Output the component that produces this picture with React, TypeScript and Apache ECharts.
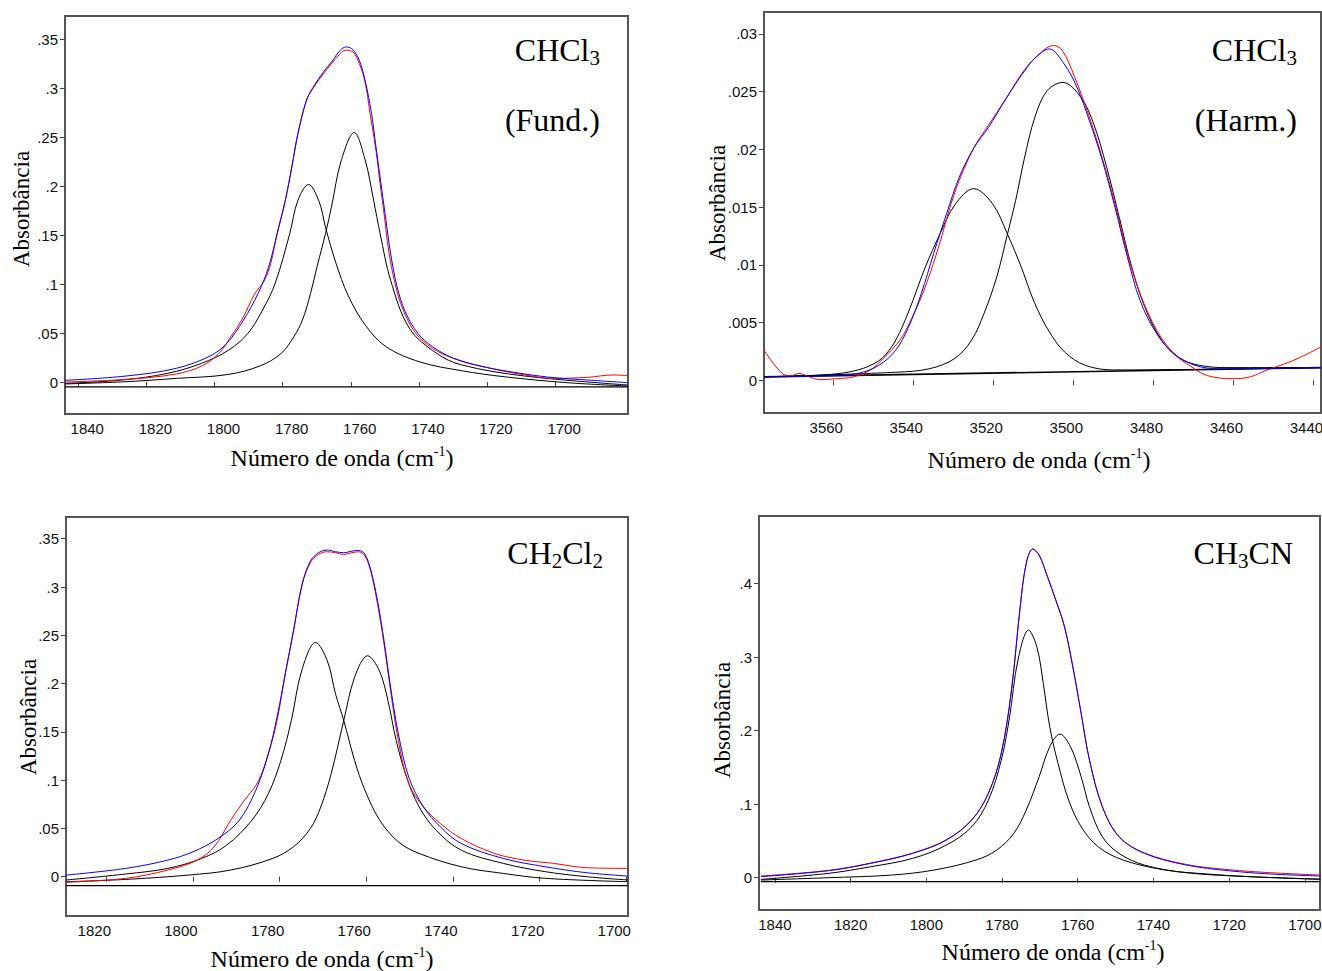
import React, { useEffect, useRef } from "react";
import * as echarts from "echarts";

// ---------- Panel 1: CHCl3 (Fund.) ----------
const p1XTicks = [1840, 1820, 1800, 1780, 1760, 1740, 1720, 1700];
const p1YTicks = [0, 0.05, 0.1, 0.15, 0.2, 0.25, 0.3, 0.35];
const p1Red = [
  [1843.9, 0.0], [1826.0, 0.0027], [1811.2, 0.0082], [1803.8, 0.0163], [1798.9, 0.0286],
  [1795.2, 0.0463], [1791.5, 0.0667], [1788.4, 0.0889], [1785.3, 0.1042], [1783.5, 0.1212],
  [1781.6, 0.1519], [1779.2, 0.1859], [1777.3, 0.22], [1775.5, 0.254], [1773.0, 0.288],
  [1771.1, 0.3], [1768.0, 0.3153], [1765.6, 0.3255], [1763.1, 0.3357], [1761.6, 0.3391],
  [1759.4, 0.3374], [1757.5, 0.3255], [1755.7, 0.3051], [1754.5, 0.2778], [1752.6, 0.237],
  [1751.4, 0.2029], [1750.1, 0.1689], [1748.9, 0.1348], [1747.0, 0.1008], [1744.6, 0.0735],
  [1740.9, 0.0497], [1736.0, 0.0344], [1729.8, 0.0242], [1721.2, 0.0157], [1708.9, 0.0072],
  [1700.2, 0.0037], [1690.4, 0.0048], [1683.0, 0.0072], [1678.6, 0.0065],
];
const p1Blue = [
  [1843.9, 0.0017], [1826.0, 0.0061], [1811.2, 0.014], [1801.3, 0.0266], [1796.4, 0.0395],
  [1791.5, 0.0633], [1787.2, 0.0906], [1784.1, 0.1178], [1781.6, 0.1519], [1779.2, 0.1859],
  [1777.3, 0.22], [1775.5, 0.254], [1773.0, 0.288], [1771.1, 0.301], [1768.0, 0.317],
  [1765.6, 0.3272], [1763.1, 0.3391], [1761.3, 0.3425], [1759.4, 0.3398], [1757.5, 0.3289],
  [1755.7, 0.3068], [1753.9, 0.2744], [1752.6, 0.2404], [1751.4, 0.2097], [1749.8, 0.1689],
  [1748.3, 0.1314], [1746.4, 0.0974], [1744.0, 0.0718], [1740.3, 0.0497], [1736.0, 0.0361],
  [1729.8, 0.0242], [1721.2, 0.0157], [1708.9, 0.0082], [1700.2, 0.0044], [1690.4, 0.002],
  [1678.6, -0.0007],
];
const p1CompA = [
  [1843.9, -0.0014], [1827.2, 0.002], [1813.7, 0.0089], [1803.8, 0.0191], [1795.8, 0.0327],
  [1790.2, 0.0497], [1785.9, 0.0735], [1782.2, 0.1008], [1777.9, 0.1519], [1775.5, 0.1859],
  [1772.4, 0.2019], [1769.3, 0.1845], [1767.4, 0.158], [1764.4, 0.122], [1760.7, 0.088],
  [1755.7, 0.058], [1749.6, 0.036], [1739.7, 0.0205], [1727.4, 0.0115], [1715.0, 0.0054],
  [1696.5, -0.0007], [1678.6, -0.0041],
];
const p1CompB = [
  [1843.9, -0.002], [1826.0, 0.0003], [1811.2, 0.0037], [1796.4, 0.0075], [1786.6, 0.0165],
  [1780.4, 0.0293], [1776.7, 0.0463], [1774.2, 0.0633], [1771.8, 0.0906], [1769.9, 0.1178],
  [1767.4, 0.1519], [1765.6, 0.18], [1762.9, 0.225], [1759.0, 0.255], [1755.7, 0.226],
  [1753.3, 0.186], [1751.4, 0.152], [1748.3, 0.104], [1742.8, 0.055], [1734.8, 0.0293],
  [1727.4, 0.0174], [1708.9, 0.0061], [1678.6, -0.0031],
];
const p1Base = [[1843.9, -0.005], [1678.6, -0.005]];

// ---------- Panel 2: CHCl3 (Harm.) ----------
const p2XTicks = [3560, 3540, 3520, 3500, 3480, 3460, 3440];
const p2YTicks = [0, 0.005, 0.01, 0.015, 0.02, 0.025, 0.03];
const p2Red = [
  [3577.3, 0.0026], [3572.8, 0.0006], [3570.5, 0.0004], [3568.6, 0.0006], [3566.0, 0.0003],
  [3563.3, 0.00006], [3559.1, 0.00014], [3554.9, 0.0003], [3550.7, 0.0009], [3547.5, 0.0019],
  [3543.3, 0.0035], [3540.2, 0.0055], [3537.0, 0.0081], [3533.8, 0.0114], [3529.6, 0.0163],
  [3524.9, 0.0201], [3521.2, 0.0221], [3517.0, 0.0243], [3512.8, 0.0266], [3509.6, 0.0279],
  [3504.9, 0.029], [3502.8, 0.0286], [3499.7, 0.0263], [3496.0, 0.0228], [3492.8, 0.0193],
  [3489.6, 0.0153], [3486.5, 0.011], [3483.3, 0.0075], [3479.1, 0.0043], [3474.8, 0.0023],
  [3470.6, 0.0012], [3466.4, 0.0004], [3460.0, 0.00014], [3455.8, 0.0003], [3451.6, 0.0009],
  [3447.4, 0.0014], [3443.2, 0.002], [3438.1, 0.0029],
];
const p2Blue = [
  [3577.3, 0.0003], [3561.2, 0.0004], [3553.8, 0.0006], [3548.6, 0.0013], [3544.4, 0.0026],
  [3541.2, 0.0046], [3538.0, 0.0075], [3534.9, 0.011], [3531.7, 0.0144], [3528.5, 0.0176],
  [3524.9, 0.0201], [3521.2, 0.0219], [3517.0, 0.0243], [3512.8, 0.0265], [3509.6, 0.0279],
  [3506.0, 0.0287], [3502.3, 0.0274], [3499.1, 0.0254], [3496.0, 0.0225], [3492.8, 0.0191],
  [3489.6, 0.015], [3486.5, 0.0107], [3483.3, 0.0069], [3479.1, 0.004], [3474.8, 0.0023],
  [3469.6, 0.0013], [3463.3, 0.001], [3438.1, 0.0011],
];
const p2Comp1 = [
  [3577.3, 0.0003], [3561.2, 0.0005], [3553.8, 0.0009], [3548.6, 0.0017], [3545.4, 0.0029],
  [3542.8, 0.0046], [3540.1, 0.0069], [3537.0, 0.0098], [3533.3, 0.0127], [3529.6, 0.0152],
  [3524.9, 0.0166], [3520.2, 0.0153], [3516.5, 0.0127], [3513.0, 0.0098], [3509.8, 0.0068],
  [3506.0, 0.0042], [3502.0, 0.0024], [3497.0, 0.0013], [3490.0, 0.0009], [3438.1, 0.0011],
];
const p2Comp2 = [
  [3577.3, 0.0003], [3544.4, 0.0007], [3536.0, 0.001], [3529.6, 0.0019], [3525.4, 0.0035],
  [3522.3, 0.0058], [3519.1, 0.009], [3516.5, 0.0126], [3514.4, 0.0156], [3512.3, 0.0191],
  [3509.6, 0.0228], [3506.5, 0.0251], [3502.6, 0.0258], [3498.1, 0.0245], [3494.9, 0.0222],
  [3491.7, 0.0185], [3488.5, 0.0141], [3485.4, 0.0098], [3482.2, 0.0064], [3478.0, 0.0035],
  [3473.8, 0.002], [3468.5, 0.0013], [3461.1, 0.0011], [3438.1, 0.0011],
];
const p2Base = [[3577.3, 0.0003], [3438.1, 0.0011]];

// ---------- Panel 3: CH2Cl2 ----------
const p3XTicks = [1820, 1800, 1780, 1760, 1740, 1720, 1700];
const p3YTicks = [0, 0.05, 0.1, 0.15, 0.2, 0.25, 0.3, 0.35];
const p3Red = [
  [1829.2, -0.0058], [1815.5, -0.0017], [1805.8, 0.0069], [1799.0, 0.0172], [1795.1, 0.031],
  [1791.3, 0.0585], [1788.4, 0.0774], [1785.0, 0.0981], [1782.6, 0.1273], [1780.6, 0.1617],
  [1778.7, 0.2099], [1776.8, 0.2546], [1774.8, 0.3028], [1772.9, 0.3252], [1771.0, 0.3338],
  [1769.0, 0.3365], [1767.1, 0.3355], [1765.2, 0.3338], [1763.3, 0.3355], [1761.8, 0.3365],
  [1760.3, 0.3321], [1758.9, 0.3149], [1757.4, 0.2822], [1755.9, 0.2409], [1754.5, 0.1961],
  [1752.6, 0.1411], [1750.2, 0.0964], [1746.8, 0.0723], [1742.9, 0.0551], [1738.1, 0.0396],
  [1730.4, 0.0241], [1723.6, 0.0172], [1716.8, 0.0138], [1709.1, 0.0093], [1699.7, 0.0086],
];
const p3Blue = [
  [1829.2, 0.0017], [1815.5, 0.0086], [1805.8, 0.0172], [1800.0, 0.0258], [1794.2, 0.0396],
  [1789.3, 0.0585], [1785.5, 0.0895], [1782.6, 0.1273], [1780.6, 0.1652], [1778.7, 0.2099],
  [1776.8, 0.2546], [1774.8, 0.3028], [1772.9, 0.3269], [1771.0, 0.3355], [1769.0, 0.3383],
  [1767.1, 0.3365], [1765.2, 0.3355], [1763.3, 0.3372], [1761.8, 0.3379], [1760.3, 0.3338],
  [1758.9, 0.3166], [1757.4, 0.2856], [1755.9, 0.2443], [1754.5, 0.1996], [1752.6, 0.148],
  [1750.2, 0.1032], [1746.8, 0.0723], [1742.9, 0.0516], [1738.1, 0.0344], [1728.4, 0.0189],
  [1718.7, 0.0103], [1709.1, 0.0041], [1699.7, 0.0007],
];
const p3CompA = [
  [1829.2, -0.0034], [1815.5, 0.0028], [1805.8, 0.0086], [1798.0, 0.0189], [1792.2, 0.0327],
  [1786.4, 0.0585], [1782.6, 0.086], [1779.7, 0.1204], [1777.3, 0.1617], [1774.9, 0.2134],
  [1771.7, 0.2426], [1769.0, 0.2237], [1767.1, 0.1893], [1765.2, 0.1617], [1762.7, 0.1204],
  [1760.3, 0.0895], [1756.9, 0.0585], [1752.6, 0.0361], [1747.8, 0.0241], [1738.1, 0.0103],
  [1728.4, 0.0034], [1718.7, -0.0017], [1699.7, -0.0052],
];
const p3CompB = [
  [1829.2, -0.0052], [1815.5, -0.0028], [1801.0, 0.0017], [1791.3, 0.0069], [1781.6, 0.0189],
  [1776.8, 0.031], [1772.9, 0.0499], [1770.5, 0.0723], [1768.1, 0.1067], [1765.2, 0.1617],
  [1762.7, 0.2065], [1759.7, 0.2288], [1757.0, 0.2134], [1755.0, 0.1824], [1753.1, 0.1411],
  [1750.7, 0.1032], [1747.8, 0.0723], [1743.9, 0.0482], [1738.1, 0.0275], [1728.4, 0.0138],
  [1718.7, 0.0052], [1709.1, 0.0], [1699.7, -0.0034],
];
const p3Base = [[1829.2, -0.0093], [1699.7, -0.0093]];

// ---------- Panel 4: CH3CN ----------
const p4XTicks = [1840, 1820, 1800, 1780, 1760, 1740, 1720, 1700];
const p4YTicks = [0, 0.1, 0.2, 0.3, 0.4];
const p4Red = [
  [1843.7, 0.0023], [1825.9, 0.0099], [1814.7, 0.0199], [1803.6, 0.0335], [1794.7, 0.0516],
  [1788.0, 0.0788], [1783.6, 0.115], [1780.2, 0.1694], [1777.5, 0.2554], [1775.2, 0.3687],
  [1773.6, 0.4276], [1771.9, 0.4471], [1770.2, 0.4389], [1768.0, 0.4095], [1765.8, 0.3778],
  [1763.5, 0.3415], [1761.3, 0.2872], [1759.1, 0.2237], [1756.9, 0.1603], [1753.5, 0.0969],
  [1749.1, 0.0561], [1742.4, 0.0337], [1731.3, 0.018], [1720.1, 0.0109], [1709.0, 0.0068],
  [1695.9, 0.0036],
];
const p4Blue = [
  [1843.7, 0.0014], [1825.9, 0.0095], [1814.7, 0.0195], [1803.6, 0.0331], [1794.7, 0.0512],
  [1788.0, 0.0784], [1783.6, 0.1146], [1780.2, 0.169], [1777.5, 0.255], [1775.2, 0.3683],
  [1773.6, 0.4272], [1771.9, 0.4467], [1770.2, 0.4385], [1768.0, 0.4091], [1765.8, 0.3774],
  [1763.5, 0.3411], [1761.3, 0.2868], [1759.1, 0.2233], [1756.9, 0.1599], [1753.5, 0.0965],
  [1749.1, 0.0557], [1742.4, 0.0331], [1731.3, 0.0172], [1720.1, 0.0095], [1709.0, 0.005],
  [1695.9, 0.0023],
];
const p4CompA = [
  [1843.7, -0.0023], [1825.9, 0.0059], [1814.7, 0.0149], [1803.6, 0.0263], [1794.7, 0.0444],
  [1788.0, 0.0693], [1783.6, 0.1055], [1780.2, 0.1599], [1778.0, 0.2188], [1775.8, 0.2958],
  [1773.0, 0.3366], [1770.8, 0.3139], [1769.1, 0.2641], [1767.4, 0.2052], [1765.2, 0.1554],
  [1762.4, 0.1055], [1759.1, 0.0693], [1754.6, 0.0421], [1748.0, 0.024], [1736.8, 0.0104],
  [1725.7, 0.005], [1714.6, 0.0014], [1695.9, -0.0023],
];
const p4CompB = [
  [1843.7, -0.0032], [1825.9, 0.0], [1809.2, 0.0036], [1798.0, 0.0104], [1786.9, 0.024],
  [1781.4, 0.0376], [1776.9, 0.0602], [1773.6, 0.092], [1770.2, 0.1373], [1767.4, 0.178],
  [1764.7, 0.1952], [1761.9, 0.178], [1759.1, 0.1373], [1756.9, 0.0965], [1753.5, 0.0557],
  [1749.1, 0.0331], [1742.4, 0.0172], [1731.3, 0.0068], [1714.6, 0.0014], [1695.9, -0.0018],
];
const p4Base = [[1843.7, -0.0054], [1695.9, -0.0054]];

const SERIF = "'Liberation Serif', 'Times New Roman', serif";
const SANS = "'Liberation Sans', Arial, sans-serif";

const yFmt = (v: number) =>
  v === 0 ? "0" : String(Number(v.toFixed(4))).replace(/^0\./, ".");

function xAxis(gridIndex: number, min: number, max: number, ticks: number[], pad: number[]) {
  return {
    type: "value",
    gridIndex,
    min,
    max,
    inverse: true,
    axisLine: { show: false },
    splitLine: { show: false },
    axisTick: { show: true, inside: false, length: 5, customValues: ticks, lineStyle: { color: "#444", width: 1 } },
    axisLabel: {
      show: true,
      customValues: ticks,
      margin: 7,
      fontSize: 15,
      fontFamily: SANS,
      color: "#111",
      padding: pad,
      hideOverlap: false,
      formatter: (v: number) => String(v),
    },
  };
}

function yAxis(gridIndex: number, min: number, max: number, ticks: number[]) {
  return {
    type: "value",
    gridIndex,
    min,
    max,
    axisLine: { show: false },
    splitLine: { show: false },
    axisTick: { show: true, inside: false, length: 5, customValues: ticks, lineStyle: { color: "#444", width: 1 } },
    axisLabel: {
      show: true,
      customValues: ticks,
      margin: 7,
      fontSize: 15,
      fontFamily: SANS,
      color: "#111",
      formatter: yFmt,
    },
  };
}

function line(idx: number, data: number[][], color: string, width: number, z: number, smooth = true) {
  return {
    type: "line",
    xAxisIndex: idx,
    yAxisIndex: idx,
    data,
    symbol: "none",
    showSymbol: false,
    smooth: smooth ? 0.35 : false,
    lineStyle: { color, width },
    silent: true,
    z,
  };
}

function yTitle(x: number, y: number) {
  return {
    type: "text",
    x,
    y,
    rotation: Math.PI / 2,
    style: {
      text: "Absorbância",
      fontFamily: SERIF,
      fontSize: 23,
      fill: "#000",
      align: "center",
      verticalAlign: "middle",
    },
  };
}

function xTitle(x: number, y: number) {
  return {
    type: "text",
    x,
    y,
    style: {
      text: "{m|Número de onda (cm}{s|-1}{m|)}",
      align: "center",
      verticalAlign: "middle",
      rich: {
        m: { fontFamily: SERIF, fontSize: 24, lineHeight: 28, fill: "#000" },
        s: { fontFamily: SERIF, fontSize: 14, fill: "#000", verticalAlign: "top" },
      },
    },
  };
}

function chem(x: number, y: number, parts: [string, boolean][]) {
  const text = parts.map(([t, sub]) => (sub ? `{s|${t}}` : `{m|${t}}`)).join("");
  return {
    type: "text",
    x,
    y,
    style: {
      text,
      align: "right",
      verticalAlign: "middle",
      rich: {
        m: { fontFamily: SERIF, fontSize: 32, lineHeight: 36, fill: "#000" },
        s: { fontFamily: SERIF, fontSize: 21, fill: "#000", verticalAlign: "bottom" },
      },
    },
  };
}

function plain(x: number, y: number, text: string) {
  return {
    type: "text",
    x,
    y,
    style: { text, fontFamily: SERIF, fontSize: 32, fill: "#000", align: "right", verticalAlign: "middle" },
  };
}

export default function App() {
  const ref = useRef<HTMLDivElement>(null);
  useEffect(() => {
    if (!ref.current) return;
    const chart = echarts.init(ref.current, undefined, { renderer: "svg" });
    const gridStyle = {
      show: true,
      borderColor: "#555",
      borderWidth: 2,
      backgroundColor: "#fff",
      containLabel: false,
      outerBoundsMode: "none",
    };
    chart.setOption({
      animation: false,
      backgroundColor: "#fff",
      grid: [
        { left: 65, top: 16, width: 563, height: 398, ...gridStyle },
        { left: 764, top: 12, width: 557, height: 401, ...gridStyle },
        { left: 66, top: 517, width: 562, height: 399, ...gridStyle },
        { left: 759, top: 516, width: 561, height: 394, ...gridStyle },
      ],
      xAxis: [
        xAxis(0, 1678.6, 1843.9, p1XTicks, [0, 0, 0, 18]),
        xAxis(1, 3438.1, 3577.3, p2XTicks, [0, 14, 0, 0]),
        xAxis(2, 1699.6, 1829.3, p3XTicks, [0, 24, 0, 0]),
        xAxis(3, 1696.0, 1844.2, p4XTicks, [0, 0, 0, 0]),
      ],
      yAxis: [
        yAxis(0, -0.0327, 0.3741, p1YTicks),
        yAxis(1, -0.00283, 0.0319, p2YTicks),
        yAxis(2, -0.0407, 0.3725, p3YTicks),
        yAxis(3, -0.0439, 0.4918, p4YTicks),
      ],
      series: [
        line(0, p1Base, "#000", 1.2, 1, false),
        line(0, p1CompA, "#000", 1, 2),
        line(0, p1CompB, "#000", 1, 2),
        line(0, p1Red, "#ff0000", 1, 3),
        line(0, p1Blue, "#0000ff", 1, 4),
        line(1, p2Base, "#000", 1.6, 1, false),
        line(1, p2Comp1, "#000", 1, 2),
        line(1, p2Comp2, "#000", 1, 2),
        line(1, p2Red, "#ff0000", 1, 3),
        line(1, p2Blue, "#0000ff", 1, 4),
        line(2, p3Base, "#000", 1.2, 1, false),
        line(2, p3CompA, "#000", 1, 2),
        line(2, p3CompB, "#000", 1, 2),
        line(2, p3Red, "#ff0000", 1, 3),
        line(2, p3Blue, "#0000ff", 1, 4),
        line(3, p4Base, "#000", 1.2, 1, false),
        line(3, p4CompA, "#000", 1, 2),
        line(3, p4CompB, "#000", 1, 2),
        line(3, p4Red, "#ff0000", 1, 3),
        line(3, p4Blue, "#0000ff", 1, 4),
      ],
      graphic: [
        yTitle(21, 209),
        yTitle(717, 203),
        yTitle(28, 717),
        yTitle(722, 720),
        xTitle(342, 458),
        xTitle(1039, 460),
        xTitle(322, 959),
        xTitle(1053, 952),
        chem(600, 50, [["CHCl", false], ["3", true]]),
        plain(600, 120, "(Fund.)"),
        chem(1297, 50, [["CHCl", false], ["3", true]]),
        plain(1297, 120, "(Harm.)"),
        chem(603, 553, [["CH", false], ["2", true], ["Cl", false], ["2", true]]),
        chem(1293, 553, [["CH", false], ["3", true], ["CN", false]]),
      ],
    });
    return () => chart.dispose();
  }, []);
  return (
    <div
      ref={ref}
      style={{ position: "fixed", left: 0, top: 0, width: 1322, height: 971, background: "#fff" }}
    />
  );
}
